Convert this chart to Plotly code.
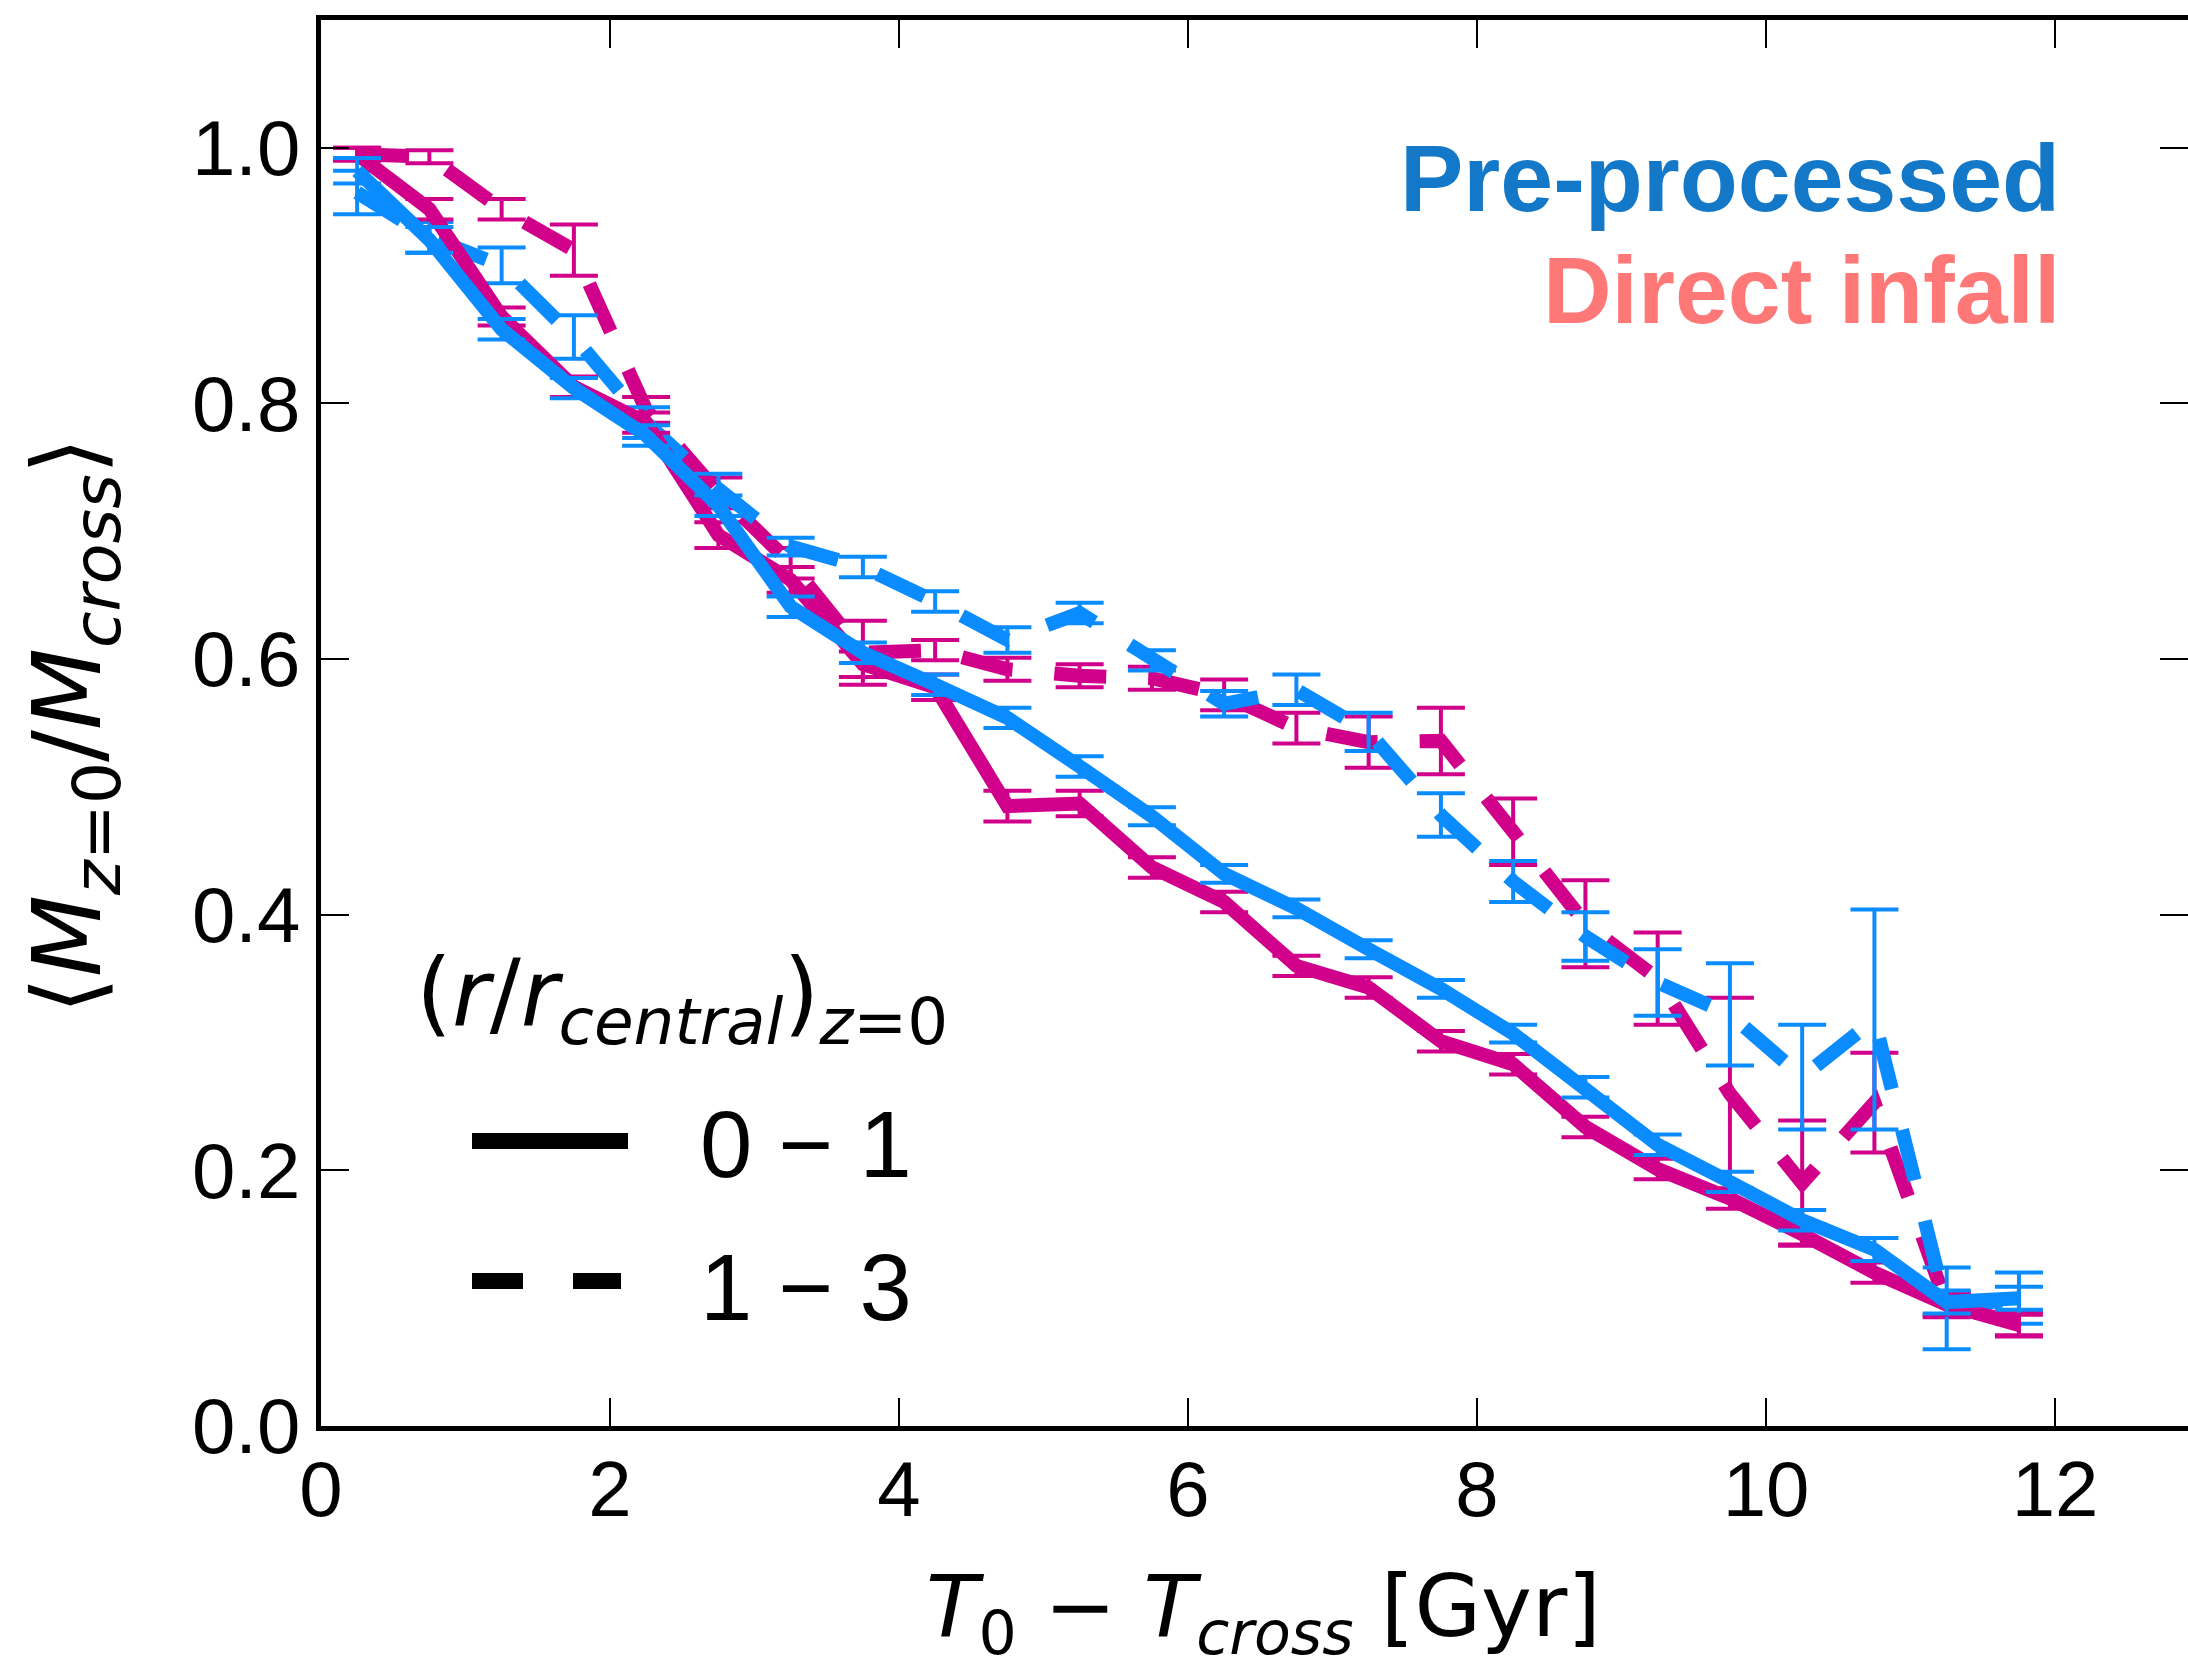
import plotly.graph_objects as go

# ---- data ----
t_bins = [0.25, 0.75, 1.25, 1.75, 2.25, 2.75, 3.25, 3.75, 4.25, 4.75, 5.25, 5.75,
          6.25, 6.75, 7.25, 7.75, 8.25, 8.75, 9.25, 9.75, 10.25, 10.75, 11.25, 11.75]

pre_inner = [0.982, 0.928, 0.858, 0.812, 0.775, 0.720, 0.641, 0.605, 0.580, 0.554, 0.516, 0.477,
             0.432, 0.405, 0.373, 0.342, 0.307, 0.265, 0.220, 0.191, 0.161, 0.138, 0.097, 0.100]
pre_inner_err = [0.010, 0.010, 0.008, 0.008, 0.008, 0.008, 0.008, 0.008, 0.008, 0.008, 0.008, 0.007,
                 0.007, 0.007, 0.007, 0.007, 0.007, 0.008, 0.008, 0.008, 0.008, 0.009, 0.009, 0.009]

pre_outer = [0.965, 0.930, 0.908, 0.852, 0.785, 0.733, 0.688, 0.672, 0.645, 0.615, 0.636, 0.599,
             0.565, 0.576, 0.543, 0.478, 0.426, 0.383, 0.347, 0.322, 0.273, 0.318, 0.092, 0.100]
pre_outer_err = [0.017, 0.012, 0.014, 0.017, 0.012, 0.012, 0.007, 0.008, 0.008, 0.010, 0.008, 0.008,
                 0.010, 0.012, 0.015, 0.017, 0.016, 0.019, 0.026, 0.040, 0.041, 0.086, 0.032, 0.020]

dir_inner = [0.995, 0.952, 0.868, 0.813, 0.785, 0.697, 0.662, 0.596, 0.578, 0.485, 0.487, 0.437,
             0.410, 0.360, 0.343, 0.301, 0.283, 0.234, 0.201, 0.178, 0.150, 0.120, 0.095, 0.079]
dir_inner_err = [0.005, 0.008, 0.007, 0.008, 0.008, 0.010, 0.010, 0.010, 0.010, 0.012, 0.010, 0.008,
                 0.008, 0.008, 0.008, 0.008, 0.008, 0.008, 0.008, 0.008, 0.008, 0.008, 0.008, 0.008]

dir_outer = [0.995, 0.993, 0.952, 0.920, 0.795, 0.730, 0.675, 0.605, 0.607, 0.592, 0.587, 0.585,
             0.572, 0.546, 0.535, 0.536, 0.465, 0.393, 0.350, 0.260, 0.190, 0.253, 0.095, 0.080]
dir_outer_err = [0.005, 0.005, 0.008, 0.020, 0.010, 0.012, 0.012, 0.025, 0.008, 0.009, 0.009, 0.009,
                 0.012, 0.012, 0.020, 0.026, 0.026, 0.034, 0.036, 0.075, 0.049, 0.039, 0.010, 0.010]

x_ticks = [0, 2, 4, 6, 8, 10, 12]
y_ticks = [0.0, 0.2, 0.4, 0.6, 0.8, 1.0]

BLUE = "#0A8CFF"
MAGENTA = "#D0008A"
DASH = "52px,42px"
TICKFONT = dict(family="Liberation Sans", size=78, color="black")

W, H = 2188, 1671
L, R, T, B = 321, 0, 20, 245
XMAX = 12.92
YMAX = 1.1

fig = go.Figure()

def add(y, err, color, dash):
    fig.add_trace(go.Scatter(
        x=t_bins, y=y, mode="lines",
        line=dict(color=color, width=14, dash=dash),
        error_y=dict(type="data", array=err, visible=True, color=color,
                     thickness=4, width=24),
        showlegend=False, hoverinfo="skip"))

add(dir_outer, dir_outer_err, MAGENTA, DASH)
add(pre_outer, pre_outer_err, BLUE, DASH)
add(dir_inner, dir_inner_err, MAGENTA, "solid")
add(pre_inner, pre_inner_err, BLUE, "solid")

# invisible trace to carry right-side ticks
fig.add_trace(go.Scatter(x=[0], y=[0], yaxis="y2", mode="markers",
                         marker=dict(opacity=0), showlegend=False, hoverinfo="skip"))

fig.update_layout(
    width=W, height=H,
    margin=dict(l=L, r=R, t=T, b=B, pad=0),
    plot_bgcolor="white", paper_bgcolor="white",
    xaxis=dict(range=[0, XMAX], tickvals=x_ticks, ticktext=[str(v) for v in x_ticks],
               showline=True, linewidth=5, linecolor="black", mirror="ticks",
               ticks="inside", ticklen=28, tickwidth=2, tickcolor="black",
               ticklabelstandoff=-9,
               showgrid=False, zeroline=False, tickfont=TICKFONT),
    yaxis=dict(range=[0, YMAX], tickvals=y_ticks, ticktext=["%.1f" % v for v in y_ticks],
               showline=True, linewidth=5, linecolor="black", mirror=False,
               ticks="inside", ticklen=28, tickwidth=2, tickcolor="black",
               showgrid=False, zeroline=False, tickfont=TICKFONT),
    yaxis2=dict(range=[0, YMAX], overlaying="y", side="right", anchor="x",
                tickvals=y_ticks, showticklabels=False, showline=False,
                ticks="inside", ticklen=28, tickwidth=2, tickcolor="black",
                showgrid=False, zeroline=False),
)

def px_to_paper_x(px):
    return (px - L) / (W - L - R)

def px_to_paper_y(py):
    return (H - B - py) / (H - T - B)

ann = []
# axis titles
ann.append(dict(text="<i>T</i><sub>0</sub> − <i>T</i><sub><i>cross</i></sub> [Gyr]",
                x=px_to_paper_x(1263), y=px_to_paper_y(1612), xref="paper", yref="paper",
                showarrow=False, xanchor="center", yanchor="middle",
                font=dict(family="DejaVu Sans", size=86, color="black")))
ann.append(dict(text="⟨<i>M</i><sub><i>z</i>=0</sub>/<i>M</i><sub><i>cross</i></sub>⟩",
                x=px_to_paper_x(74), y=px_to_paper_y(726), xref="paper", yref="paper",
                showarrow=False, xanchor="center", yanchor="middle", textangle=-90,
                font=dict(family="DejaVu Sans", size=95, color="black")))
# series labels
ann.append(dict(text="<b>Pre-processed</b>", x=px_to_paper_x(2062), y=px_to_paper_y(178),
                xref="paper", yref="paper", showarrow=False, xanchor="right", yanchor="middle",
                font=dict(family="Liberation Sans", size=95, color="#1478C8")))
ann.append(dict(text="<b>Direct infall</b>", x=px_to_paper_x(2062), y=px_to_paper_y(290),
                xref="paper", yref="paper", showarrow=False, xanchor="right", yanchor="middle",
                font=dict(family="Liberation Sans", size=95, color="#FF7878")))
# legend (drawn manually)
ann.append(dict(text="(<i>r</i>/<i>r</i><sub><i>central</i></sub>)<sub><i>z</i>=0</sub>",
                x=px_to_paper_x(414), y=px_to_paper_y(999), xref="paper", yref="paper",
                showarrow=False, xanchor="left", yanchor="middle",
                font=dict(family="DejaVu Sans", size=92, color="black")))
ann.append(dict(text="0 − 1", x=px_to_paper_x(698), y=px_to_paper_y(1144), xref="paper", yref="paper",
                showarrow=False, xanchor="left", yanchor="middle",
                font=dict(family="Liberation Sans", size=94, color="black")))
ann.append(dict(text="1 − 3", x=px_to_paper_x(698), y=px_to_paper_y(1287), xref="paper", yref="paper",
                showarrow=False, xanchor="left", yanchor="middle",
                font=dict(family="Liberation Sans", size=94, color="black")))
fig.update_layout(annotations=ann)

shapes = [
    dict(type="line", xref="paper", yref="paper",
         x0=px_to_paper_x(472), x1=px_to_paper_x(628), y0=px_to_paper_y(1141), y1=px_to_paper_y(1141),
         line=dict(color="black", width=16)),
    dict(type="line", xref="paper", yref="paper",
         x0=px_to_paper_x(472), x1=px_to_paper_x(621), y0=px_to_paper_y(1281), y1=px_to_paper_y(1281),
         line=dict(color="black", width=16, dash="51px,50px")),
]
fig.update_layout(shapes=shapes)

fig.write_html("out.html")
